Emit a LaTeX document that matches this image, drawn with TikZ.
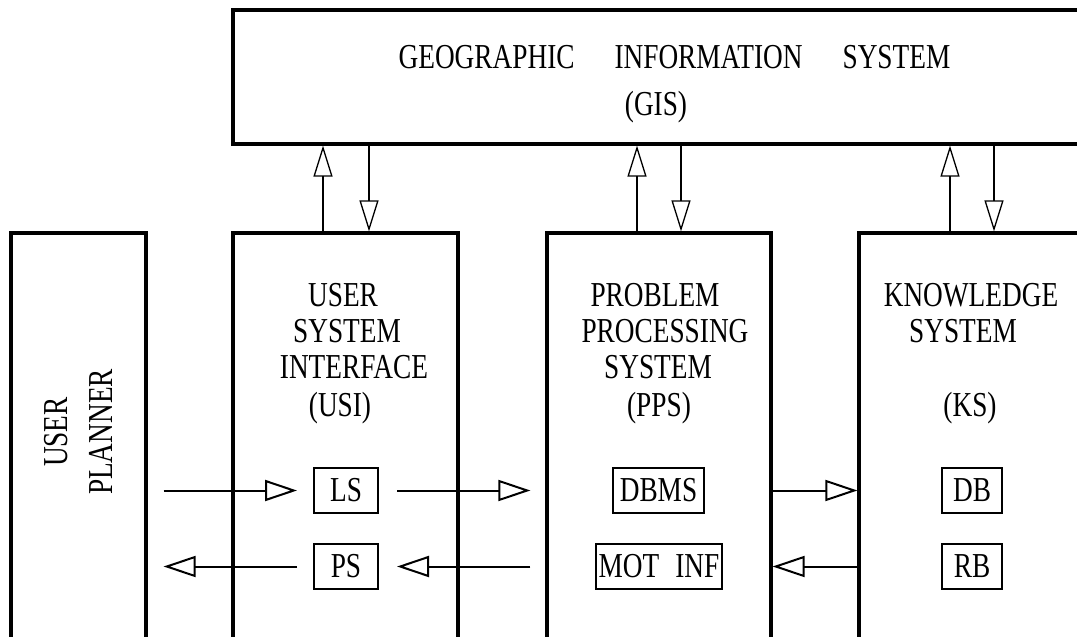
\documentclass[tikz,border=0pt]{standalone}
\usepackage{fontspec}
\setmainfont{Liberation Serif}[FakeStretch=0.78]
\usetikzlibrary{arrows.meta}
\newcommand\dfont{\fontsize{35}{37}\selectfont}
\begin{document}
\begin{tikzpicture}[x=1pt,y=-1pt,
  big/.style={draw, line width=3.2pt, rectangle, inner sep=0pt},
  small/.style={draw, line width=2pt, rectangle, inner sep=0pt, minimum height=45pt, font=\dfont},
  lbl/.style={font=\dfont, anchor=base, inner sep=0pt},
  varrow/.style={line width=1.3pt, -{Triangle[open, length=31pt, width=19pt]}},
  harrow/.style={line width=2pt, -{Triangle[open, length=32pt, width=21pt]}}]
\useasboundingbox (0,0) rectangle (1077,637);
\clip (0,0) rectangle (1077,637);
\fill[white] (0,0) rectangle (1077,637);

% main boxes
\node[big, minimum width=883pt, minimum height=134pt] (gis) at (674.5,77) {};
\node[big, minimum width=135pt, minimum height=427pt] (up) at (78.5,446.5) {};
\node[big, minimum width=225pt, minimum height=427pt] (usi) at (345.5,446.5) {};
\node[big, minimum width=224pt, minimum height=427pt] (pps) at (659,446.5) {};
\node[big, minimum width=225pt, minimum height=427pt] (ks) at (971.5,446.5) {};

% GIS text
\node[lbl] (gist1) at (674.5,68) {GEOGRAPHIC\hspace{40pt}INFORMATION\hspace{40pt}SYSTEM};
\node[lbl] (gist2) at (656,115) {(GIS)};

% user planner text
\node[font=\fontsize{35}{45}\selectfont, align=center, rotate=90] (upt) at (78,432) {USER\\PLANNER};

% USI text
\node[lbl] (usi1) at (343,306) {USER};
\node[lbl] (usi2) at (347,342) {SYSTEM};
\node[lbl] (usi3) at (354,378) {INTERFACE};
\node[lbl] (usi4) at (340,416) {(USI)};

% PPS text
\node[lbl] (pps1) at (655,306) {PROBLEM};
\node[lbl] (pps2) at (665,342) {PROCESSING};
\node[lbl] (pps3) at (658,378) {SYSTEM};
\node[lbl] (pps4) at (659,416) {(PPS)};

% KS text
\node[lbl] (ks1) at (971,306) {KNOWLEDGE};
\node[lbl] (ks2) at (963,342) {SYSTEM};
\node[lbl] (ks4) at (970,416) {(KS)};

% inner boxes
\node[small, minimum width=64pt] (ls) at (346,490.5) {LS};
\node[small, minimum width=64pt] (ps) at (346,566.5) {PS};
\node[small, minimum width=91pt] (dbms) at (658.5,490.5) {DBMS};
\node[small, minimum width=126pt] (mot) at (659,566.5) {MOT\hspace{16pt}INF};
\node[small, minimum width=60pt] (db) at (972,490.5) {DB};
\node[small, minimum width=60pt] (rb) at (972,566.5) {RB};

% vertical arrows
\draw[varrow] ([xshift=-22.5pt]usi.north) -- ([xshift=-22.5pt]usi.north |- gis.south);
\draw[varrow] ([xshift=23.5pt]usi.north |- gis.south) -- ([xshift=23.5pt]usi.north);
\draw[varrow] ([xshift=-22pt]pps.north) -- ([xshift=-22pt]pps.north |- gis.south);
\draw[varrow] ([xshift=22pt]pps.north |- gis.south) -- ([xshift=22pt]pps.north);
\draw[varrow] ([xshift=-21.5pt]ks.north) -- ([xshift=-21.5pt]ks.north |- gis.south);
\draw[varrow] ([xshift=22.5pt]ks.north |- gis.south) -- ([xshift=22.5pt]ks.north);

% horizontal arrows
\draw[harrow] ([xshift=16pt]up.east |- ls.west) -- ([xshift=-16pt]ls.west);
\draw[harrow] ([xshift=18pt]ls.east) -- ([xshift=-15pt]pps.west |- ls.east);
\draw[harrow] (pps.east |- dbms.east) -- (ks.west |- dbms.east);
\draw[harrow] ([xshift=-16pt]ps.west) -- ([xshift=16pt]up.east |- ps.west);
\draw[harrow] ([xshift=-15pt]pps.west |- ps.east) -- ([xshift=18pt]ps.east);
\draw[harrow] (ks.west |- mot.east) -- (pps.east |- mot.east);
\end{tikzpicture}
\end{document}
